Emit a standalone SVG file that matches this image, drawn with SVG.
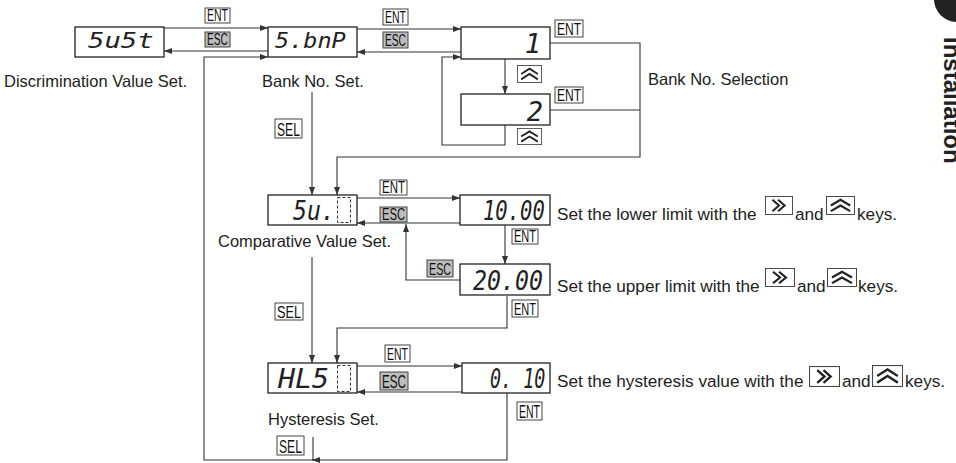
<svg xmlns="http://www.w3.org/2000/svg" width="956" height="463" viewBox="0 0 956 463">
<style>
.bx{fill:#fff;stroke:#222;stroke-width:1.3}
.ln{fill:none;stroke:#333;stroke-width:1.1}
.lb{font-family:"Liberation Sans",Arial,Helvetica,sans-serif;font-size:16.5px;fill:#222}
.st{font-family:"Liberation Sans",Arial,Helvetica,sans-serif;font-size:17.2px;fill:#222}
.kw{fill:#fff;stroke:#444;stroke-width:1}
.kg{fill:#bdbdbd;stroke:#444;stroke-width:1}
.kt{font-family:"Liberation Sans",Arial,Helvetica,sans-serif;fill:#111;text-anchor:middle}
.seg{font-family:"DejaVu Sans Mono","Liberation Mono",monospace;font-style:oblique;fill:#222}
.dash{fill:none;stroke:#333;stroke-width:1;stroke-dasharray:3 2}
.chev{fill:none;stroke:#222;stroke-width:2.2;stroke-linejoin:miter}
</style>
<defs>
<marker id="ah" viewBox="0 0 8 6" refX="8" refY="3" markerWidth="8" markerHeight="6" orient="auto" markerUnits="userSpaceOnUse"><path d="M0,0 L8,3 L0,6 Z" fill="#333"/></marker>
<symbol id="kr" viewBox="0 0 30 20" preserveAspectRatio="none"><rect x="0.5" y="0.5" width="29" height="19" fill="#fff" stroke="#444"/><path class="chev" d="M8,4 L15,10 L8,16 M14,4 L21,10 L14,16"/></symbol>
<symbol id="ku" viewBox="0 0 30 20" preserveAspectRatio="none"><rect x="0.5" y="0.5" width="29" height="19" fill="#fff" stroke="#444"/><path class="chev" d="M5,10 L15,4 L25,10 M5,16 L15,10 L25,16" stroke-width="1.8"/></symbol>
</defs>

<g id="connectors">
<path class="ln" d="M164,28 H268" marker-end="url(#ah)"/>
<path class="ln" d="M268,51 H164" marker-end="url(#ah)"/>
<path class="ln" d="M357,29 H461" marker-end="url(#ah)"/>
<path class="ln" d="M461,52 H357" marker-end="url(#ah)"/>
<path class="ln" d="M505,59 V94" marker-end="url(#ah)"/>
<path class="ln" d="M505,125 V145 H442 V57 H461" marker-end="url(#ah)"/>
<path class="ln" d="M550,43 H640 V157 H337 V195" marker-end="url(#ah)"/>
<path class="ln" d="M550,110 H640"/>
<path class="ln" d="M312,92 V195" marker-end="url(#ah)"/>
<path class="ln" d="M357,198 H460" marker-end="url(#ah)"/>
<path class="ln" d="M460,223 H357" marker-end="url(#ah)"/>
<path class="ln" d="M505,225 V264" marker-end="url(#ah)"/>
<path class="ln" d="M460,280 H406 V224" marker-end="url(#ah)"/>
<path class="ln" d="M312,257 V363" marker-end="url(#ah)"/>
<path class="ln" d="M507,296 V328 H337 V363" marker-end="url(#ah)"/>
<path class="ln" d="M357,366 H462" marker-end="url(#ah)"/>
<path class="ln" d="M462,392 H357" marker-end="url(#ah)"/>
<path class="ln" d="M507,393 V460 H204 V57 H268" marker-end="url(#ah)"/>
<path class="ln" d="M313,437 V460"/>
<path class="ln" d="M320,460 H312" marker-end="url(#ah)"/>
</g>

<g id="key-labels">
<rect class="kw" x="205" y="8" width="25" height="15"/><text class="kt" x="217.5" y="21" font-size="16" textLength="21" lengthAdjust="spacingAndGlyphs">ENT</text>
<rect class="kg" x="205" y="32" width="25" height="15"/><text class="kt" x="217.5" y="45" font-size="16" textLength="21" lengthAdjust="spacingAndGlyphs">ESC</text>
<rect class="kw" x="383" y="9" width="25" height="16"/><text class="kt" x="395.5" y="23" font-size="16" textLength="21" lengthAdjust="spacingAndGlyphs">ENT</text>
<rect class="kg" x="383" y="32" width="25" height="16"/><text class="kt" x="395.5" y="46" font-size="16" textLength="21" lengthAdjust="spacingAndGlyphs">ESC</text>
<rect class="kw" x="555" y="20" width="28" height="17"/><text class="kt" x="569" y="35" font-size="17" textLength="24" lengthAdjust="spacingAndGlyphs">ENT</text>
<rect class="kw" x="555" y="87" width="28" height="16"/><text class="kt" x="569" y="101" font-size="17" textLength="24" lengthAdjust="spacingAndGlyphs">ENT</text>
<use href="#ku" x="517" y="65" width="25" height="18"/>
<use href="#ku" x="517" y="128" width="25" height="17"/>
<rect class="kw" x="275" y="119" width="27" height="19"/><text class="kt" x="288.5" y="136" font-size="18" textLength="23" lengthAdjust="spacingAndGlyphs">SEL</text>
<rect class="kw" x="380" y="180" width="27" height="15"/><text class="kt" x="393.5" y="193" font-size="16" textLength="23" lengthAdjust="spacingAndGlyphs">ENT</text>
<rect class="kg" x="380" y="207" width="27" height="15"/><text class="kt" x="393.5" y="220" font-size="16" textLength="23" lengthAdjust="spacingAndGlyphs">ESC</text>
<rect class="kw" x="512" y="229" width="26" height="15"/><text class="kt" x="525" y="242" font-size="16" textLength="22" lengthAdjust="spacingAndGlyphs">ENT</text>
<rect class="kg" x="427" y="260" width="26" height="17"/><text class="kt" x="440" y="275" font-size="17" textLength="22" lengthAdjust="spacingAndGlyphs">ESC</text>
<rect class="kw" x="512" y="300" width="26" height="17"/><text class="kt" x="525" y="315" font-size="17" textLength="22" lengthAdjust="spacingAndGlyphs">ENT</text>
<rect class="kw" x="275" y="303" width="28" height="17"/><text class="kt" x="289" y="318" font-size="17" textLength="24" lengthAdjust="spacingAndGlyphs">SEL</text>
<rect class="kw" x="385" y="345" width="25" height="17"/><text class="kt" x="397.5" y="360" font-size="17" textLength="21" lengthAdjust="spacingAndGlyphs">ENT</text>
<rect class="kg" x="380" y="372" width="28" height="18"/><text class="kt" x="394" y="388" font-size="18" textLength="24" lengthAdjust="spacingAndGlyphs">ESC</text>
<rect class="kw" x="517" y="402" width="25" height="18"/><text class="kt" x="529.5" y="418" font-size="18" textLength="21" lengthAdjust="spacingAndGlyphs">ENT</text>
<rect class="kw" x="277" y="436" width="27" height="19"/><text class="kt" x="290.5" y="453" font-size="18" textLength="23" lengthAdjust="spacingAndGlyphs">SEL</text>
</g>

<g id="n-sust">
<rect class="bx" x="75" y="27" width="89" height="30"/>
<text class="seg" transform="translate(88,48) scale(1.3,1)" font-size="21">5u5t</text>
<text class="lb" x="4" y="87">Discrimination Value Set.</text>
</g>
<g id="n-sbnk">
<rect class="bx" x="268" y="27" width="89" height="30"/>
<text class="seg" transform="translate(275,48) scale(1.12,1)" font-size="21">5.bnP</text>
<text class="lb" x="262" y="87">Bank No. Set.</text>
</g>
<g id="n-bank1">
<rect class="bx" x="461" y="27" width="89" height="32"/>
<text class="seg" x="541" y="53" font-size="27" text-anchor="end">1</text>
</g>
<g id="n-bank2">
<rect class="bx" x="461" y="94" width="89" height="31"/>
<text class="seg" x="543" y="121" font-size="27" text-anchor="end">2</text>
</g>
<text class="lb" x="648" y="85">Bank No. Selection</text>

<g id="n-sv">
<rect class="bx" x="268" y="195" width="89" height="30"/>
<text class="seg" transform="translate(293,220) scale(0.86,1)" font-size="27">5u.</text>
<rect class="dash" x="337.5" y="197.5" width="13" height="25"/>
<text class="lb" x="218" y="247">Comparative Value Set.</text>
</g>
<g id="n-low">
<rect class="bx" x="460" y="195" width="90" height="30"/>
<text class="seg" transform="translate(483,220) scale(0.76,1)" font-size="27">10.00</text>
<text class="st" x="557" y="220">Set the lower limit with the</text>
<use href="#kr" x="765" y="196" width="28" height="19"/>
<text class="st" x="795" y="220">and</text>
<use href="#ku" x="826" y="196" width="29" height="19"/>
<text class="st" x="857" y="220">keys.</text>
</g>
<g id="n-up">
<rect class="bx" x="460" y="264" width="90" height="31"/>
<text class="seg" transform="translate(473,290) scale(0.86,1)" font-size="27">20.00</text>
<text class="st" x="557" y="292">Set the upper limit with the</text>
<use href="#kr" x="765" y="268" width="30" height="19"/>
<text class="st" x="797" y="292">and</text>
<use href="#ku" x="827" y="268" width="30" height="19"/>
<text class="st" x="858" y="292">keys.</text>
</g>
<g id="n-hys">
<rect class="bx" x="268" y="363" width="89" height="30"/>
<text class="seg" transform="translate(278,388) scale(1.05,1)" font-size="27">HL5</text>
<rect class="dash" x="337.5" y="365.5" width="13" height="26"/>
<text class="lb" x="268" y="425">Hysteresis Set.</text>
</g>
<g id="n-hval">
<rect class="bx" x="462" y="363" width="88" height="30"/>
<text class="seg" transform="translate(490,388) scale(0.68,1)" font-size="27">0. 10</text>
<text class="st" x="557" y="387">Set the hysteresis value with the</text>
<use href="#kr" x="809" y="366" width="31" height="21"/>
<text class="st" x="842" y="387">and</text>
<use href="#ku" x="872" y="365" width="31" height="22"/>
<text class="st" x="905" y="387">keys.</text>
</g>

<g id="tab">
<circle cx="957" cy="-1" r="23" fill="#222"/>
<text transform="translate(944,37) rotate(90)" font-family="Liberation Sans,Arial,sans-serif" font-weight="bold" font-size="24" fill="#222">Installation</text>
</g>
</svg>
